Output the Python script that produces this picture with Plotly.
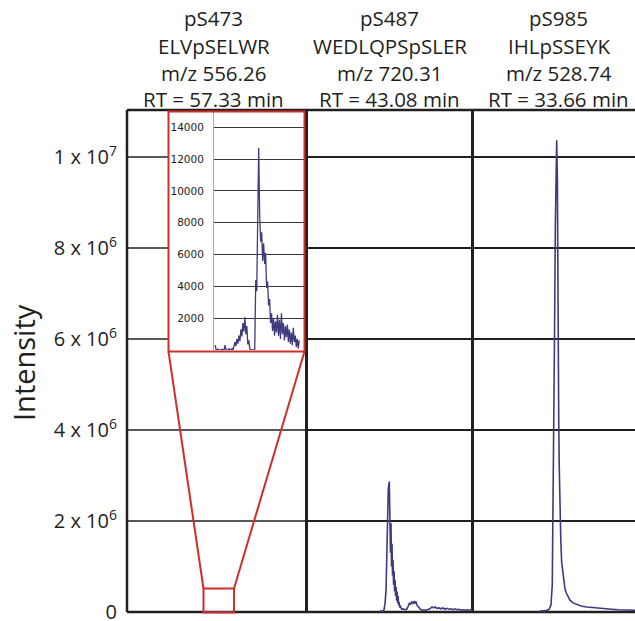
import plotly.graph_objects as go

W, H = 635, 621


def fx(x):
    return x / W


def fy(y):
    return 1 - y / H


# ---------------- data ----------------
panel_titles = [
    ["pS473", "ELVpSELWR", "m/z 556.26", "RT = 57.33 min"],
    ["pS487", "WEDLQPSpSLER", "m/z 720.31", "RT = 43.08 min"],
    ["pS985", "IHLpSSEYK", "m/z 528.74", "RT = 33.66 min"],
]

y_tick_vals = [0, 2e6, 4e6, 6e6, 8e6, 1e7]
y_tick_text = ["0", "2 x 10<sup>6</sup>", "4 x 10<sup>6</sup>", "6 x 10<sup>6</sup>",
               "8 x 10<sup>6</sup>", "1 x 10<sup>7</sup>"]
inset_tick_vals = [2000, 4000, 6000, 8000, 10000, 12000, 14000]
inset_tick_text = ["2000", "4000", "6000", "8000", "10000", "12000", "14000"]

# pS473 (shown in the inset, and at the bottom of panel 1)
t_473 = [56.45, 56.47, 56.49, 56.51, 56.53, 56.55, 56.57, 56.59, 56.61, 56.63,
         56.65, 56.67, 56.69, 56.71, 56.73, 56.75, 56.77, 56.79, 56.81, 56.83,
         56.85, 56.87, 56.89, 56.91, 56.93, 56.95, 56.97, 56.99, 57.01, 57.03,
         57.05, 57.07, 57.09, 57.11, 57.13, 57.15, 57.17, 57.19, 57.21, 57.23,
         57.25, 57.27, 57.29, 57.31, 57.33, 57.35, 57.37, 57.39, 57.41, 57.43,
         57.45, 57.47, 57.49, 57.51, 57.53, 57.55, 57.57, 57.59, 57.61, 57.63,
         57.65, 57.67, 57.69, 57.71, 57.73, 57.75, 57.77, 57.79, 57.81, 57.83,
         57.85, 57.87, 57.89, 57.91, 57.93, 57.95, 57.97, 57.99, 58.01, 58.03,
         58.05, 58.07, 58.09, 58.11, 58.13, 58.15]
i_473 = [300, 0, 0, 60, 0, 0, 0, 50, 0, 0,
         300, 0, 0, 0, 80, 0, 0, 100, 0, 200,
         500, 250, 700, 400, 900, 550, 1300, 850, 1700, 1150,
         2050, 1000, 1500, 350, 600, 100, 0, 0, 0, 0,
         50, 4400, 3700, 7600, 12700, 8400, 6800, 7400, 5600, 6700,
         5400, 6100, 3900, 4300, 2800, 3200, 1700, 2300, 1200, 2000,
         900, 1800, 1100, 2200, 900, 1900, 700, 2300, 1000, 1700,
         600, 1500, 800, 1600, 500, 1300, 400, 1100, 300, 1400,
         500, 900, 200, 700, 100, 600]

# pS487
t_487 = [42.53, 42.71, 42.77, 42.83, 42.89, 42.93, 42.96, 42.99, 43.02, 43.08,
         43.12, 43.15, 43.18, 43.21, 43.24, 43.27, 43.30, 43.33, 43.36, 43.39,
         43.42, 43.45, 43.48, 43.51, 43.54, 43.57, 43.60, 43.63, 43.66, 43.69,
         43.74, 43.81, 43.90, 44.00, 44.10, 44.18, 44.26, 44.33, 44.40, 44.48,
         44.54, 44.59, 44.65, 44.71, 44.80, 44.89, 45.00, 45.12, 45.24, 45.36,
         45.47, 45.59, 45.68, 45.77, 45.89, 46.00, 46.12, 46.24, 46.35, 46.47,
         46.59, 46.71, 46.83, 46.94, 47.06, 47.18, 47.30, 47.42, 47.53, 47.65,
         47.77, 47.89, 47.95]
i_487 = [0.02e6, 0.02e6, 0.05e6, 0.19e6, 0.5e6, 1.15e6, 1.6e6, 2.03e6, 2.7e6, 2.87e6,
         1.9e6, 1.3e6, 1.95e6, 1.0e6, 1.5e6, 0.8e6, 1.15e6, 0.6e6, 0.9e6, 0.45e6,
         0.7e6, 0.35e6, 0.55e6, 0.25e6, 0.45e6, 0.2e6, 0.35e6, 0.15e6, 0.22e6, 0.1e6,
         0.12e6, 0.06e6, 0.07e6, 0.05e6, 0.06e6, 0.12e6, 0.19e6, 0.17e6, 0.22e6, 0.18e6,
         0.24e6, 0.2e6, 0.23e6, 0.15e6, 0.1e6, 0.07e6, 0.04e6, 0.05e6, 0.04e6, 0.05e6,
         0.07e6, 0.11e6, 0.09e6, 0.11e6, 0.08e6, 0.09e6, 0.07e6, 0.09e6, 0.06e6, 0.08e6,
         0.06e6, 0.07e6, 0.05e6, 0.07e6, 0.05e6, 0.06e6, 0.04e6, 0.05e6, 0.04e6, 0.05e6,
         0.04e6, 0.05e6, 0.04e6]

# pS985
t_985 = [32.68, 33.03, 33.21, 33.32, 33.40, 33.44, 33.48, 33.53, 33.58, 33.62,
         33.66, 33.70, 33.72, 33.75, 33.78, 33.81, 33.85, 33.90, 33.95, 34.05,
         34.15, 34.25, 34.35, 34.44, 34.62, 34.84, 35.09, 35.42, 35.68, 36.01,
         36.33, 36.60, 36.91, 37.27, 37.56, 37.91, 38.27]
i_985 = [0.02e6, 0.03e6, 0.06e6, 0.15e6, 0.6e6, 2.0e6, 3.5e6, 6.0e6, 8.5e6, 9.8e6,
         10.37e6, 9.5e6, 7.5e6, 5.8e6, 4.2e6, 3.2e6, 2.3e6, 1.6e6, 1.1e6, 0.72e6,
         0.5e6, 0.4e6, 0.32e6, 0.26e6, 0.2e6, 0.16e6, 0.13e6, 0.11e6, 0.1e6, 0.08e6,
         0.07e6, 0.07e6, 0.06e6, 0.05e6, 0.05e6, 0.04e6, 0.04e6]

# ---------------- style ----------------
TRACE = "#3d3b7e"
INK = "#231f20"
RED = "#cf2f2a"
FONT = "Open Sans"

# pixel layout
LEFT, D1, D2, RIGHT = 127, 306.5, 472.5, 635
TOP, BOTTOM = 110, 612
Y_MAX = 1.1033e7

fig = go.Figure()
fig.add_trace(go.Scatter(x=t_473, y=i_473, mode="lines", line=dict(color=TRACE, width=1.3),
                         xaxis="x", yaxis="y", hoverinfo="skip"))
fig.add_trace(go.Scatter(x=t_487, y=i_487, mode="lines", line=dict(color=TRACE, width=1.6),
                         xaxis="x2", yaxis="y2", hoverinfo="skip"))
fig.add_trace(go.Scatter(x=t_985, y=i_985, mode="lines", line=dict(color=TRACE, width=1.6),
                         xaxis="x3", yaxis="y3", hoverinfo="skip"))
fig.add_trace(go.Scatter(x=t_473, y=i_473, mode="lines", line=dict(color=TRACE, width=1.3),
                         xaxis="x4", yaxis="y4", hoverinfo="skip"))

hidden_x = dict(showticklabels=False, showgrid=False, zeroline=False, showline=False,
                ticks="", automargin=False)
main_y_dom = [fy(BOTTOM), fy(TOP)]

layout = dict(
    width=W, height=H,
    margin=dict(l=0, r=0, t=0, b=0),
    paper_bgcolor="white", plot_bgcolor="rgba(0,0,0,0)",
    showlegend=False,
    xaxis=dict(domain=[fx(LEFT), fx(D1)], range=[51.977, 62.536], anchor="y", **hidden_x),
    yaxis=dict(domain=main_y_dom, range=[0, Y_MAX], anchor="x",
               tickvals=y_tick_vals, ticktext=y_tick_text, ticks="",
               showgrid=False, zeroline=False, showline=False, automargin=False,
               ticklabelstandoff=9, ticklabeloverflow="allow",
               tickfont=dict(family=FONT, size=20, color=INK)),
    xaxis2=dict(domain=[fx(D1), fx(D2)], range=[38.209, 47.974], anchor="y2", **hidden_x),
    yaxis2=dict(domain=main_y_dom, range=[0, Y_MAX], anchor="x2", tickvals=y_tick_vals,
                showticklabels=False, ticks="", showgrid=True, gridcolor=INK, gridwidth=1.5,
                zeroline=False, showline=False, automargin=False),
    xaxis3=dict(domain=[fx(D2), 1.0], range=[28.707, 38.266], anchor="y3", **hidden_x),
    yaxis3=dict(domain=main_y_dom, range=[0, Y_MAX], anchor="x3", tickvals=y_tick_vals,
                showticklabels=False, ticks="", showgrid=True, gridcolor=INK, gridwidth=1.5,
                zeroline=False, showline=False, automargin=False),
    xaxis4=dict(domain=[fx(214), fx(304)], range=[56.426, 58.246], anchor="y4", **hidden_x),
    yaxis4=dict(domain=[fy(350), fy(111.3)], range=[0, 15000], anchor="x4",
                tickvals=inset_tick_vals, ticktext=inset_tick_text, ticks="",
                showgrid=True, gridcolor="#3a3a3a", automargin=False,
                gridwidth=1, zeroline=False, showline=True, linecolor="#a8a8a8", linewidth=1,
                ticklabelstandoff=7,
                tickfont=dict(family="DejaVu Sans", size=10.5, color="#222222")),
)

shapes = []
# panel-1 gridlines (kept clear of the inset that covers them)
for v in y_tick_vals[1:]:
    x_end = D1 if v < 5e6 else 168.5
    shapes.append(dict(type="line", xref="paper", yref="y", x0=fx(LEFT), x1=fx(x_end),
                       y0=v, y1=v, line=dict(color=INK, width=1.5), layer="below"))
# frame
frame = [
    (LEFT, TOP, RIGHT, TOP, 2.5),
    (LEFT, BOTTOM, RIGHT, BOTTOM, 2.5),
    (LEFT, TOP, LEFT, BOTTOM, 2.5),
    (D1, TOP, D1, BOTTOM, 3),
    (D2, TOP, D2, BOTTOM, 3),
]
for x0, y0, x1, y1, w in frame:
    shapes.append(dict(type="line", xref="paper", yref="paper", x0=fx(x0), y0=fy(y0),
                       x1=fx(x1), y1=fy(y1), line=dict(color=INK, width=w), layer="below"))
# red inset box, zoom box and connectors
shapes.append(dict(type="rect", xref="paper", yref="paper", x0=fx(168.5), x1=fx(304.5),
                   y0=fy(351.5), y1=fy(111.5), line=dict(color=RED, width=2), layer="above"))
shapes.append(dict(type="rect", xref="paper", yref="paper", x0=fx(203.5), x1=fx(234),
                   y0=fy(612.5), y1=fy(588.5), line=dict(color=RED, width=2), layer="above"))
shapes.append(dict(type="line", xref="paper", yref="paper", x0=fx(168.5), y0=fy(351.5),
                   x1=fx(203.5), y1=fy(588.5), line=dict(color=RED, width=2), layer="above"))
shapes.append(dict(type="line", xref="paper", yref="paper", x0=fx(304.5), y0=fy(351.5),
                   x1=fx(234), y1=fy(588.5), line=dict(color=RED, width=2), layer="above"))
layout["shapes"] = shapes

annotations = []
centers = [213.5, 389.5, 558.5]
line_y = [18, 46, 73, 99]
for cx, lines in zip(centers, panel_titles):
    for ly, txt in zip(line_y, lines):
        annotations.append(dict(text=txt, x=fx(cx), y=fy(ly), xref="paper", yref="paper",
                                xanchor="center", yanchor="middle", showarrow=False,
                                font=dict(family=FONT, size=20.5, color=INK)))
annotations.append(dict(text="Intensity", x=fx(23), y=fy(363), xref="paper", yref="paper",
                        xanchor="center", yanchor="middle", showarrow=False, textangle=-90,
                        font=dict(family=FONT, size=29, color=INK)))
layout["annotations"] = annotations

fig.update_layout(**layout)
fig.write_html("out.html", config={"displayModeBar": False, "staticPlot": True},
               post_script="document.body.style.margin='0';document.body.style.overflow='hidden';")
